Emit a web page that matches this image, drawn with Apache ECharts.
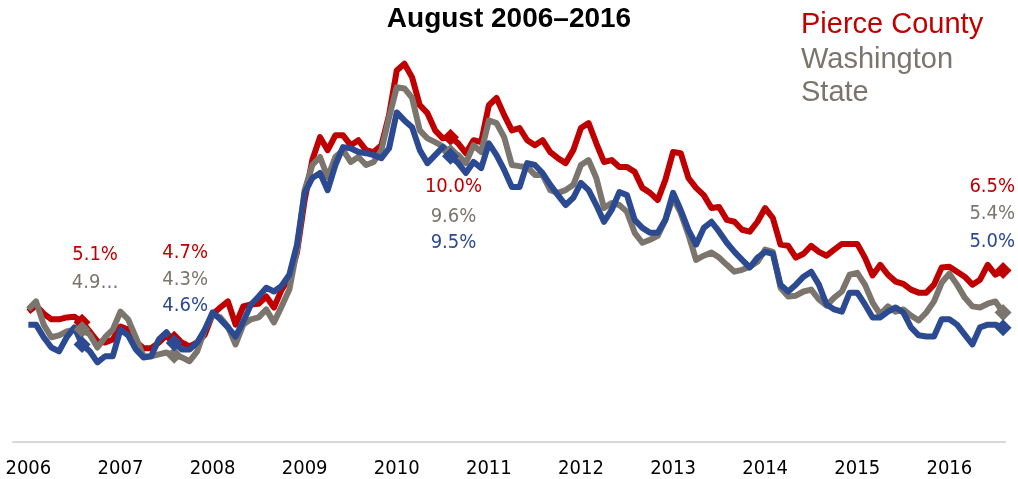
<!DOCTYPE html>
<html>
<head>
<meta charset="utf-8">
<script src="https://cdn.jsdelivr.net/npm/echarts@6/dist/echarts.min.js"></script>
<style>
  html, body { margin: 0; padding: 0; background: #fff; }
  #chart { width: 1018px; height: 479px; }
</style>
</head>
<body>
<div id="chart"></div>
<script>
// ---- DATA (monthly, Jan 2006 – Aug 2016) ----
const years = ['2006','2007','2008','2009','2010','2011','2012','2013','2014','2015','2016'];

const pierce = [
  5.42,5.58,5.37,5.22,5.22,5.27,5.29,5.14,4.90,4.64,4.61,4.69,
  5.03,4.95,4.64,4.46,4.46,4.61,4.80,4.70,4.61,4.51,4.61,4.82,
  5.35,5.53,5.69,5.08,5.56,5.61,5.63,5.82,5.53,6.00,6.31,6.97,
  8.35,9.40,10.00,9.66,10.05,10.05,9.79,9.92,9.66,9.61,9.79,10.58,
  11.75,11.93,11.57,10.84,10.63,10.18,9.97,10.00,9.84,9.58,9.92,9.87,
  10.84,11.03,10.58,10.18,10.24,9.92,9.79,9.92,9.61,9.45,9.32,9.66,
  10.24,10.37,9.84,9.35,9.40,9.22,9.22,9.09,8.67,8.54,8.35,8.88,
  9.61,9.58,8.93,8.67,8.48,8.14,8.17,7.83,7.78,7.57,7.52,7.78,
  8.14,7.88,7.18,7.15,6.84,6.94,7.15,6.99,6.89,7.05,7.20,7.20,
  7.20,6.84,6.37,6.65,6.39,6.21,6.15,6.00,5.92,5.92,6.13,6.58,
  6.60,6.47,6.34,6.13,6.26,6.65,6.39,6.50
];

const washington = [
  5.48,5.69,5.08,4.75,4.80,4.90,4.95,4.95,4.82,4.48,4.75,4.95,
  5.42,5.22,4.75,4.25,4.25,4.30,4.35,4.28,4.22,4.12,4.38,4.95,
  5.35,5.27,5.03,4.56,5.08,5.22,5.27,5.48,5.14,5.56,6.00,7.05,
  8.61,9.27,9.48,8.95,9.48,9.66,9.35,9.48,9.27,9.35,9.66,10.52,
  11.31,11.28,11.03,10.18,9.97,9.87,9.76,9.60,9.53,9.32,9.79,9.61,
  10.44,10.37,10.00,9.27,9.24,9.22,9.01,9.01,8.61,8.54,8.61,8.75,
  9.27,9.40,8.93,8.14,8.27,8.22,8.04,7.49,7.23,7.31,7.41,7.83,
  8.41,8.01,7.44,6.78,6.89,6.97,6.84,6.65,6.47,6.52,6.60,6.73,
  7.05,6.99,6.05,5.82,5.84,5.95,6.00,5.74,5.58,5.79,5.95,6.39,
  6.44,6.13,5.66,5.35,5.56,5.42,5.48,5.32,5.19,5.40,5.69,6.18,
  6.42,6.13,5.79,5.56,5.53,5.63,5.69,5.40
];

const unitedStates = [
  5.08,5.08,4.75,4.48,4.38,4.75,5.01,4.56,4.38,4.09,4.25,4.25,
  4.95,4.80,4.43,4.22,4.25,4.69,4.88,4.60,4.43,4.43,4.61,4.95,
  5.40,5.22,5.01,4.77,5.16,5.61,5.82,6.05,5.95,6.10,6.39,7.18,
  8.54,8.93,9.06,8.61,9.27,9.74,9.71,9.61,9.58,9.53,9.45,9.71,
  10.65,10.44,10.26,9.66,9.32,9.53,9.74,9.50,9.32,9.06,9.35,9.19,
  9.84,9.53,9.14,8.69,8.69,9.32,9.27,9.06,8.75,8.48,8.22,8.41,
  8.80,8.61,8.22,7.78,8.09,8.56,8.48,7.83,7.62,7.49,7.49,7.83,
  8.54,8.09,7.57,7.18,7.62,7.78,7.52,7.23,6.99,6.78,6.58,6.84,
  6.99,6.94,6.13,5.95,6.13,6.34,6.47,6.13,5.61,5.48,5.42,5.92,
  5.92,5.61,5.27,5.27,5.42,5.53,5.40,5.01,4.80,4.77,4.77,5.22,
  5.22,5.08,4.82,4.56,5.01,5.08,5.08,5.00
];

// Labelled months (August of 2006, 2007, 2010, 2016) and their labels
const labelMonths = [7, 19, 55, 127];
const pierceLabels = ['5.1%', '4.7%', '10.0%', '6.5%'];
const washingtonLabels = ['4.9…', '4.3%', '9.6%', '5.4%'];
const unitedStatesLabels = ['', '4.6%', '9.5%', '5.0%'];

// ---- STYLE ----
const RED = '#c00000', GRAY = '#7b756e', BLUE = '#2b4a91';
const NARROW = '"Liberation Sans Narrow", "DejaVu Sans Condensed", sans-serif';
const offsets = {
  pierce:      [[13, -68], [11, -86], [3, 50], [12, -84]],
  washington:  [[13, -47], [11, -75], [3, 64], [12, -99]],
  unitedStates:[[13, -30], [11, -37], [3, 87], [12, -86]]
};

function buildData(values, labels, offs, color) {
  return values.map((v, i) => {
    const k = labelMonths.indexOf(i);
    if (k < 0) return [i, v];
    const isLast = k === labelMonths.length - 1;
    return {
      value: [i, v],
      symbol: 'diamond',
      symbolSize: 17,
      label: {
        show: labels[k] !== '',
        formatter: labels[k],
        position: 'inside',
        align: isLast ? 'right' : 'center',
        verticalAlign: 'middle',
        offset: offs[k],
        color: color,
        fontFamily: NARROW,
        fontSize: 20
      }
    };
  });
}

function lineSeries(name, values, labels, offs, color) {
  return {
    name: name,
    type: 'line',
    data: buildData(values, labels, offs, color),
    symbol: 'none',
    clip: false,
    lineStyle: { color: color, width: 6, join: 'round' },
    itemStyle: { color: color },
    emphasis: { disabled: true },
    z: 2
  };
}

const chart = echarts.init(document.getElementById('chart'), null, { renderer: 'canvas' });
chart.setOption({
  animation: false,
  backgroundColor: '#fff',
  title: {
    text: 'August 2006–2016',
    left: 'center',
    top: 0,
    textStyle: { fontFamily: '"Liberation Sans", Arial, sans-serif', fontWeight: 'bold', fontSize: 28, color: '#000' }
  },
  legend: {
    orient: 'vertical',
    left: 796,
    top: 8,
    icon: 'none',
    itemWidth: 0,
    itemHeight: 0,
    itemGap: 2,
    padding: 0,
    selectedMode: false,
    formatter: n => n === 'Washington State' ? 'Washington\nState' : n,
    textStyle: { fontFamily: '"Liberation Sans", Arial, sans-serif', fontSize: 29, lineHeight: 33 },
    data: [
      { name: 'Pierce County', textStyle: { color: RED } },
      { name: 'Washington State', textStyle: { color: GRAY } }
    ]
  },
  grid: { left: 13, right: 13, top: 61, bottom: 36, containLabel: false },
  xAxis: {
    type: 'value',
    min: -2,
    max: 127.25,
    axisLine: { show: true, lineStyle: { color: '#d9d9d9', width: 2 } },
    axisTick: { show: false },
    splitLine: { show: false },
    axisLabel: {
      customValues: years.map((y, k) => k * 12),
      formatter: v => years[Math.round(v / 12)],
      fontFamily: NARROW,
      fontSize: 20,
      color: '#000',
      margin: 17
    }
  },
  yAxis: { type: 'value', min: 2, max: 12, show: false },
  series: [
    lineSeries('Pierce County', pierce, pierceLabels, offsets.pierce, RED),
    lineSeries('Washington State', washington, washingtonLabels, offsets.washington, GRAY),
    lineSeries('United States', unitedStates, unitedStatesLabels, offsets.unitedStates, BLUE)
  ]
});
</script>
</body>
</html>
